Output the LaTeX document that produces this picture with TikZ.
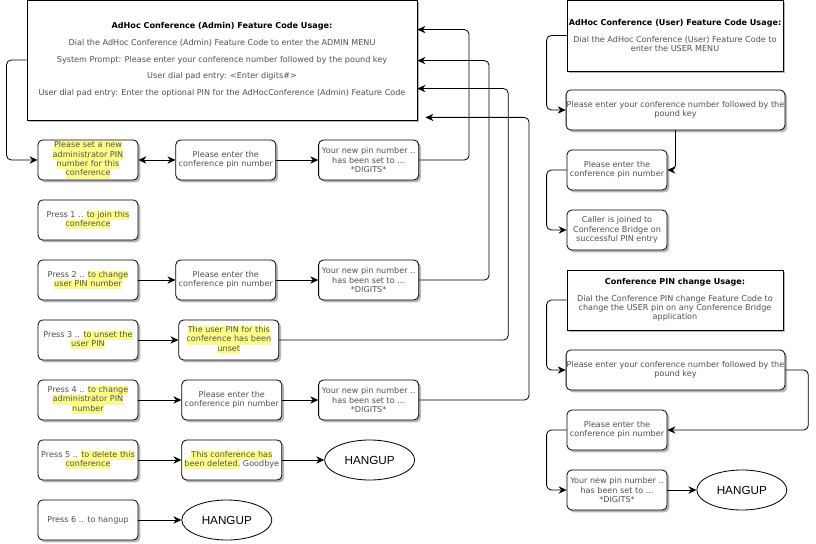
\documentclass[tikz,border=0pt]{standalone}
\usepackage{fontspec}
\setmainfont{DejaVu Sans}
\newfontfamily\hangupfont{Liberation Sans}
\usepackage{tikz}
\usetikzlibrary{positioning,arrows.meta,calc,shapes.geometric,shadows}

\definecolor{hlyellow}{RGB}{255,255,136}
\definecolor{promptgray}{RGB}{80,80,80}
\newcommand{\hl}[1]{{\setlength{\fboxsep}{0pt}\colorbox{hlyellow}{\strut#1}}}
\newcommand{\boxfont}{\fontsize{6.9}{7.9}\selectfont}

\begin{document}
\begin{tikzpicture}[
    x=0.03cm, y=-0.03cm,
    >={Stealth[length=2.4mm,width=2.2mm]},
    line width=0.7pt,
    box/.style={
        rectangle,
        rounded corners=4pt,
        draw,
        fill=white,
        minimum width=3cm,
        minimum height=1.2cm,
        inner sep=0.5pt,
        align=center,
        text=promptgray,
        font=\boxfont,
        drop shadow={shadow xshift=0.07cm,shadow yshift=-0.07cm,fill=black!40,opacity=0.7}
    },
    panel/.style={
        rectangle,
        draw,
        fill=white,
        inner sep=1pt,
        align=center,
        text=promptgray,
        font=\boxfont,
        drop shadow={shadow xshift=0.07cm,shadow yshift=-0.07cm,fill=black!40,opacity=0.7}
    },
    hangup/.style={
        ellipse,
        draw,
        minimum width=2.7cm,
        minimum height=1.2cm,
        font=\hangupfont\fontsize{10}{12}\selectfont
    },
    link/.style={->, rounded corners=4pt}
]
\useasboundingbox (0,0) rectangle (816,544);

% admin menu
\node[panel, minimum width=11.7cm, minimum height=3.6cm] (admin) at (222,60)
    {{\color{black}\bfseries AdHoc Conference (Admin) Feature Code Usage:}\\[6.3pt]
     Dial the AdHoc Conference (Admin) Feature Code to enter the ADMIN MENU\\[6.3pt]
     System Prompt: Please enter your conference number followed by the pound key\\[6.3pt]
     User dial pad entry: <Enter digits\#>\\[6.3pt]
     User dial pad entry: Enter the optional PIN for the AdHocConference (Admin) Feature Code};

\node[box] (setpin) at (88,160) {\hl{Please set a new}\\\hl{administrator PIN}\\\hl{number for this}\\\hl{conference}};
\node[box, right=1.11cm of setpin] (pin1) {Please enter the\\conference pin number};
\node[box, right=1.26cm of pin1] (done1) {Your new pin number ..\\has been set to ...\\*DIGITS*};

\node[box] (press1) at (88,220) {Press 1 .. \hl{to join this}\\\hl{conference}};

\node[box] (press2) at (88,280) {Press 2 .. \hl{to change}\\\hl{user PIN number}};
\node[box, right=1.11cm of press2] (pin2) {Please enter the\\conference pin number};
\node[box, right=1.26cm of pin2] (done2) {Your new pin number ..\\has been set to ...\\*DIGITS*};

\node[box] (press3) at (88,340) {Press 3 .. \hl{to unset the}\\\hl{user PIN}};
\node[box, right=1.2cm of press3] (unset) {\hl{The user PIN for this}\\\hl{conference has been}\\\hl{unset}};

\node[box] (press4) at (88,400) {Press 4 .. \hl{to change}\\\hl{administrator PIN}\\\hl{number}};
\node[box, right=1.29cm of press4] (pin4) {Please enter the\\conference pin number};
\node[box, right=1.08cm of pin4] (done4) {Your new pin number ..\\has been set to ...\\*DIGITS*};

\node[box] (press5) at (88,460) {Press 5 .. \hl{to delete this}\\\hl{conference}};
\node[box, right=1.29cm of press5] (deleted) {\hl{This conference has}\\\hl{been deleted.} Goodbye};
\node[hangup, right=1.26cm of deleted] (hang5) {HANGUP};

\node[box] (press6) at (88,520) {Press 6 .. to hangup};
\node[hangup, right=1.29cm of press6] (hang6) {HANGUP};

\draw[link] (admin.west) -- ++(-20,0) |- (setpin.west);
\draw[<->] (setpin) -- (pin1);
\draw[->] (pin1) -- (done1);
\draw[link] (done1.east) -- ++(50,0) |- ($(admin.north east)+(0,30)$);
\draw[->] (press2) -- (pin2);
\draw[->] (pin2) -- (done2);
\draw[link] (done2.east) -- ++(70,0) |- ($(admin.north east)+(0,61)$);
\draw[->] (press3) -- (unset);
\draw[link] (unset.east) -- ++(229,0) |- ($(admin.north east)+(0,89)$);
\draw[->] (press4) -- (pin4);
\draw[->] (pin4) -- (done4);
\draw[link] (done4.east) -- ++(110,0) |- ($(admin.south east)+(8,-3)$);
\draw[->] (press5) -- (deleted);
\draw[->] (deleted) -- (hang5);
\draw[->] (press6) -- (hang6);

% user menu
\node[panel, minimum width=6.48cm, minimum height=2.13cm] (user) at (675,35.5)
    {{\color{black}\bfseries AdHoc Conference (User) Feature Code Usage:}\\[7pt]
     Dial the AdHoc Conference (User) Feature Code to\\enter the USER MENU};
\node[box, minimum width=6.51cm] (usernum) at (675.5,110) {Please enter your conference number followed by the\\pound key};
\node[box] (userpin) at (617,170) {Please enter the\\conference pin number};
\node[box] (joined) at (617,230) {Caller is joined to\\Conference Bridge on\\successful PIN entry};

\draw[link] (user.west) -- ++(-20,0) |- (usernum.west);
\draw[link] (usernum.south) |- (userpin.east);
\draw[link] (userpin.west) -- ++(-20,0) |- (joined.west);

% pin change
\node[panel, minimum width=6.48cm, minimum height=1.8cm] (pinchg) at (675,300)
    {{\color{black}\bfseries Conference PIN change Usage:}\\[6pt]
     Dial the Conference PIN change Feature Code to\\change the USER pin on any Conference Bridge\\application};
\node[box, minimum width=6.51cm] (chgnum) at (675.5,370) {Please enter your conference number followed by the\\pound key};
\node[box] (chgpin) at (617,430) {Please enter the\\conference pin number};
\node[box] (chgdone) at (617,490) {Your new pin number ..\\has been set to ...\\*DIGITS*};
\node[hangup, right=0.87cm of chgdone] (hangchg) {HANGUP};

\draw[link] (pinchg.west) -- ++(-20,0) |- (chgnum.west);
\draw[link] (chgnum.east) -- ++(23,0) |- (chgpin.east);
\draw[link] (chgpin.west) -- ++(-20,0) |- (chgdone.west);
\draw[->] (chgdone) -- (hangchg);

\end{tikzpicture}
\end{document}
